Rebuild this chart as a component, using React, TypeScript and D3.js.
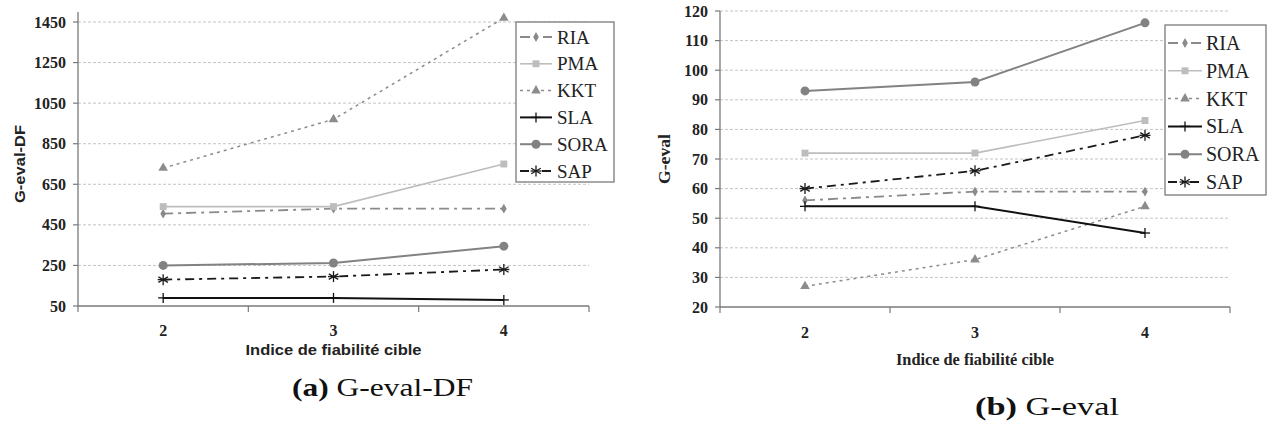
import React from "react";
import * as d3 from "d3";

const categories = ["2", "3", "4"];
const seriesNames = ["RIA", "PMA", "KKT", "SLA", "SORA", "SAP"];

// (a) G-eval-DF
const dfRIA = [505, 530, 530];
const dfPMA = [540, 540, 750];
const dfKKT = [730, 970, 1470];
const dfSLA = [90, 90, 80];
const dfSORA = [250, 262, 345];
const dfSAP = [180, 195, 230];
const dfTicks = [50, 250, 450, 650, 850, 1050, 1250, 1450];

// (b) G-eval
const evRIA = [56, 59, 59];
const evPMA = [72, 72, 83];
const evKKT = [27, 36, 54];
const evSLA = [54, 54, 45];
const evSORA = [93, 96, 116];
const evSAP = [60, 66, 78];
const evTicks = [20, 30, 40, 50, 60, 70, 80, 90, 100, 110, 120];

const SERIF = "Times New Roman, Liberation Serif, Times, serif";
const SANS = "Arial, Liberation Sans, Helvetica, sans-serif";

type Style = { color: string; width: number; dash: string; marker: string };
const styles: Record<string, Style> = {
  RIA: { color: "#8a8a8a", width: 1.8, dash: "10,5,3,5", marker: "diamond" },
  PMA: { color: "#bdbdbd", width: 1.6, dash: "", marker: "square" },
  KKT: { color: "#8c8c8c", width: 1.5, dash: "3,4", marker: "triangle" },
  SLA: { color: "#111111", width: 2, dash: "", marker: "plus" },
  SORA: { color: "#828282", width: 2, dash: "", marker: "circle" },
  SAP: { color: "#1a1a1a", width: 1.8, dash: "9,5,3,5", marker: "asterisk" },
};

function Marker({ kind, x, y, color }: { kind: string; x: number; y: number; color: string }) {
  if (kind === "circle") return <circle cx={x} cy={y} r={4.5} fill={color} />;
  if (kind === "plus")
    return (
      <g stroke={color} strokeWidth={1.3}>
        <line x1={x - 5} x2={x + 5} y1={y} y2={y} />
        <line x1={x} x2={x} y1={y - 5} y2={y + 5} />
      </g>
    );
  if (kind === "asterisk") {
    const r = 5.5;
    return (
      <g stroke={color} strokeWidth={1.3}>
        {[90, 30, 150].map((a) => {
          const rad = (a * Math.PI) / 180;
          return (
            <line key={a} x1={x - r * Math.cos(rad)} y1={y - r * Math.sin(rad)} x2={x + r * Math.cos(rad)} y2={y + r * Math.sin(rad)} />
          );
        })}
        <line x1={x - r} x2={x + r} y1={y} y2={y} />
      </g>
    );
  }
  const sym =
    kind === "diamond" ? d3.symbolDiamond : kind === "square" ? d3.symbolSquare : d3.symbolTriangle;
  const size = kind === "diamond" ? 28 : kind === "square" ? 48 : 40;
  return <path d={d3.symbol().type(sym).size(size)() || ""} transform={`translate(${x},${y})`} fill={color} />;
}

type PanelProps = {
  data: Record<string, number[]>;
  ticks: number[];
  domain: [number, number];
  xRange: [number, number];
  yRange: [number, number];
  axisTop: number;
  tickFont: number;
  yTitle: string;
  yTitleFont: string;
  yTitleSize: number;
  yTitleX: number;
  yTitleLen: number;
  xTitleFont: string;
  xTitleSize: number;
  xTitleY: number;
  xTitleLen: number;
  catY: number;
  legend: { x: number; y: number; w: number; h: number; row0: number; step: number; fs: number; lx1: number; lx2: number; tx: number };
};

function Panel(p: PanelProps) {
  const x = d3.scaleBand<string>().domain(categories).range(p.xRange);
  const y = d3.scaleLinear().domain(p.domain).range(p.yRange);
  const cx = (c: string) => (x(c) || 0) + x.bandwidth() / 2;
  const line = d3
    .line<number>()
    .x((_, i) => cx(categories[i]))
    .y((v) => y(v));
  const x0 = p.xRange[0];
  const x1 = p.xRange[1];
  const yb = p.yRange[0];
  const bounds = [...categories.map((c) => x(c) || 0), x1];
  const yMid = (p.yRange[0] + p.yRange[1]) / 2;
  return (
    <g>
      {p.ticks.slice(1).map((t) => (
        <line key={t} x1={x0} x2={x1} y1={y(t)} y2={y(t)} stroke="#c4c4c4" strokeWidth={1} strokeDasharray="3,2" />
      ))}
      <line x1={x0} x2={x0} y1={p.axisTop} y2={yb} stroke="#7a7a7a" strokeWidth={1.3} />
      <line x1={x0} x2={x1} y1={yb} y2={yb} stroke="#7a7a7a" strokeWidth={1.3} />
      {p.ticks.map((t) => (
        <g key={t}>
          <line x1={x0 - 5} x2={x0} y1={y(t)} y2={y(t)} stroke="#7a7a7a" strokeWidth={1.2} />
          <text x={x0 - 12} y={y(t)} dy="0.35em" textAnchor="end" fontFamily={SERIF} fontWeight="bold" fontSize={p.tickFont} fill="#222">
            {t}
          </text>
        </g>
      ))}
      {bounds.map((b, i) => (
        <line key={i} x1={b} x2={b} y1={yb} y2={yb + 6} stroke="#7a7a7a" strokeWidth={1.2} />
      ))}
      {categories.map((c) => (
        <text key={c} x={cx(c)} y={p.catY} textAnchor="middle" fontFamily={SERIF} fontWeight="bold" fontSize={p.tickFont} fill="#222">
          {c}
        </text>
      ))}
      <text
        transform={`translate(${p.yTitleX},${yMid}) rotate(-90)`}
        textAnchor="middle"
        dy="0.35em"
        fontFamily={p.yTitleFont}
        fontWeight="bold"
        fontSize={p.yTitleSize}
        fill="#222"
        textLength={p.yTitleLen}
        lengthAdjust="spacingAndGlyphs"
      >
        {p.yTitle}
      </text>
      <text
        x={(x0 + x1) / 2}
        y={p.xTitleY}
        textAnchor="middle"
        fontFamily={p.xTitleFont}
        fontWeight="bold"
        fontSize={p.xTitleSize}
        fill="#222"
        textLength={p.xTitleLen}
        lengthAdjust="spacingAndGlyphs"
      >
        Indice de fiabilité cible
      </text>
      {seriesNames.map((s) => {
        const st = styles[s];
        const vals = p.data[s];
        return (
          <g key={s}>
            <path d={line(vals) || ""} fill="none" stroke={st.color} strokeWidth={st.width} strokeDasharray={st.dash || undefined} />
            {vals.map((v, i) => (
              <Marker key={i} kind={st.marker} x={cx(categories[i])} y={y(v)} color={st.color} />
            ))}
          </g>
        );
      })}
      <rect x={p.legend.x} y={p.legend.y} width={p.legend.w} height={p.legend.h} fill="#fff" stroke="#7a7a7a" strokeWidth={1.3} />
      {seriesNames.map((s, i) => {
        const st = styles[s];
        const ly = p.legend.row0 + i * p.legend.step;
        return (
          <g key={s}>
            <line x1={p.legend.lx1} x2={p.legend.lx2} y1={ly} y2={ly} stroke={st.color} strokeWidth={st.width} strokeDasharray={st.dash || undefined} />
            <Marker kind={st.marker} x={(p.legend.lx1 + p.legend.lx2) / 2} y={ly} color={st.color} />
            <text x={p.legend.tx} y={ly} dy="0.35em" fontFamily={SERIF} fontSize={p.legend.fs} fill="#222">
              {s}
            </text>
          </g>
        );
      })}
    </g>
  );
}

export default function App() {
  const dfData: Record<string, number[]> = { RIA: dfRIA, PMA: dfPMA, KKT: dfKKT, SLA: dfSLA, SORA: dfSORA, SAP: dfSAP };
  const evData: Record<string, number[]> = { RIA: evRIA, PMA: evPMA, KKT: evKKT, SLA: evSLA, SORA: evSORA, SAP: evSAP };
  return (
    <svg width={1268} height={423} style={{ position: "absolute", left: 0, top: 0, background: "#fff" }}>
      <rect width={1268} height={423} fill="#fff" />
      <Panel
        data={dfData}
        ticks={dfTicks}
        domain={[50, 1450]}
        xRange={[78, 589]}
        yRange={[306, 22]}
        axisTop={12}
        tickFont={16}
        yTitle="G-eval-DF"
        yTitleFont={SANS}
        yTitleSize={15}
        yTitleX={20}
        yTitleLen={78}
        xTitleFont={SANS}
        xTitleSize={14}
        xTitleY={355}
        xTitleLen={176}
        catY={336}
        legend={{ x: 516, y: 22, w: 98, h: 160, row0: 37, step: 26.8, fs: 19, lx1: 520, lx2: 552, tx: 557 }}
      />
      <Panel
        data={evData}
        ticks={evTicks}
        domain={[20, 120]}
        xRange={[720, 1230]}
        yRange={[307, 11]}
        axisTop={11}
        tickFont={16}
        yTitle="G-eval"
        yTitleFont={SERIF}
        yTitleSize={17}
        yTitleX={664}
        yTitleLen={50}
        xTitleFont={SERIF}
        xTitleSize={16}
        xTitleY={365}
        xTitleLen={158}
        catY={338}
        legend={{ x: 1165, y: 25, w: 101, h: 170, row0: 43, step: 27.8, fs: 20, lx1: 1168, lx2: 1202, tx: 1206 }}
      />
      <text x={292} y={396} fontFamily={SERIF} fontSize={26} fill="#111" textLength={181} lengthAdjust="spacingAndGlyphs">
        <tspan fontWeight="bold">(a)</tspan> G-eval-DF
      </text>
      <text x={975} y={415} fontFamily={SERIF} fontSize={26} fill="#111" textLength={144} lengthAdjust="spacingAndGlyphs">
        <tspan fontWeight="bold">(b)</tspan> G-eval
      </text>
    </svg>
  );
}
